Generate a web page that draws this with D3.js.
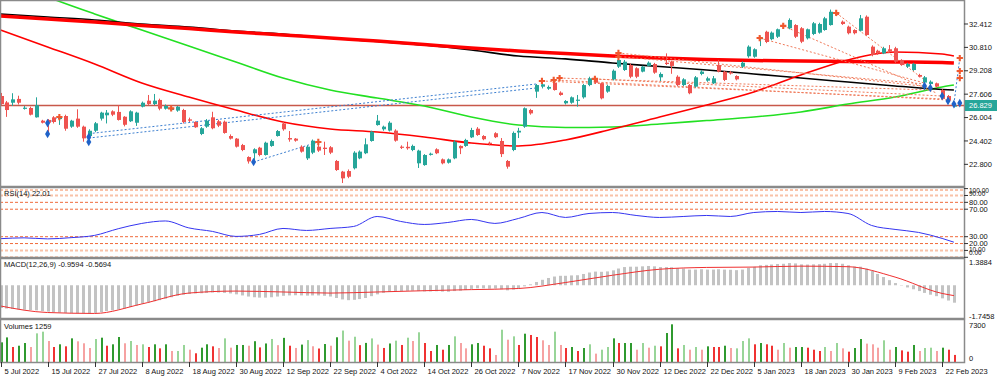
<!DOCTYPE html>
<html>
<head>
<meta charset="utf-8">
<script src="https://cdn.jsdelivr.net/npm/d3@7"></script>
<style>
  body { margin: 0; background: #fff; overflow: hidden; }
  text { font-family: "Liberation Sans", Arial, sans-serif; font-size: 7.5px; fill: #111; }
</style>
</head>
<body>
<div id="chart"></div>
<script>
// ---- price data (one bar per trading day, 5 Jul 2022 .. 24 Feb 2023) ----
const opens = [27.48,27.04,27.02,27.28,26.64,26.66,26.02,25.79,25.84,26.02,25.90,26.11,25.38,25.93,25.38,24.74,25.10,25.93,26.16,26.43,
  26.39,26.06,25.75,25.65,26.75,27.16,26.93,27.21,26.61,26.52,26.48,26.52,25.88,25.70,24.88,25.38,26.02,25.75,25.72,24.74,
  24.56,24.12,23.30,23.56,23.94,23.44,24.06,24.74,25.60,24.60,24.56,24.01,23.21,23.60,24.01,23.94,23.97,23.03,22.30,22.34,
  22.53,23.21,23.56,24.40,25.49,25.20,25.11,25.11,24.01,24.00,23.78,22.87,22.75,23.49,23.83,23.14,22.91,23.21,24.06,24.06,
  24.65,25.24,24.74,24.28,24.93,24.40,23.03,23.78,24.98,25.38,26.52,27.78,28.12,27.98,28.40,27.71,26.98,27.02,27.19,27.39,
  28.23,28.62,28.35,27.78,28.62,29.49,29.26,29.60,29.38,29.15,29.54,29.67,28.76,29.76,29.83,28.80,28.23,28.23,28.12,28.99,
  28.53,28.35,29.60,29.15,29.10,28.85,29.49,30.20,30.17,31.37,31.88,31.37,31.54,32.28,32.12,32.34,32.12,31.43,31.73,31.82,
  32.00,32.34,33.15,32.57,32.23,32.00,31.95,32.91,30.86,30.58,30.40,30.68,30.75,29.95,29.49,29.26,28.92,28.40,28.30,28.35,
  27.89,27.48,26.76];
const highs = [27.69,27.14,27.67,27.50,26.80,26.75,27.39,25.85,25.90,26.10,26.20,26.20,25.85,26.57,25.45,25.20,25.70,26.40,26.52,26.50,
  26.84,26.10,26.50,26.40,27.10,27.55,27.62,27.30,26.90,26.70,26.80,26.60,26.00,25.75,25.35,25.90,26.40,25.85,25.80,24.85,
  24.60,24.20,23.35,23.90,24.00,24.35,24.50,25.15,25.75,25.08,24.60,24.10,24.10,24.50,24.30,24.35,24.05,23.10,22.35,22.45,
  23.70,23.75,24.58,25.10,26.18,25.45,25.75,25.20,24.10,24.35,24.15,23.80,23.50,23.60,23.90,23.20,23.20,24.45,24.10,24.55,
  25.30,25.35,24.80,24.35,25.00,24.60,23.10,25.05,25.30,26.70,26.60,28.30,28.50,28.20,28.50,27.80,27.20,27.45,27.55,28.30,
  28.80,28.75,28.40,28.25,29.30,30.40,29.95,29.70,29.45,29.55,29.85,29.75,29.10,30.40,29.90,28.90,28.70,28.30,28.85,29.25,
  28.80,28.85,29.95,29.20,29.20,28.90,29.85,30.95,30.75,31.55,31.95,31.90,32.10,32.35,32.80,32.40,32.20,32.10,32.55,32.50,
  32.90,33.40,33.20,32.65,32.30,32.05,33.03,33.00,30.95,30.65,30.85,30.97,30.85,30.00,29.75,29.75,29.00,28.85,28.55,28.40,
  27.95,27.55,26.95];
const lows = [26.87,26.05,26.80,26.90,26.55,26.15,26.00,25.60,24.95,25.60,25.50,25.10,25.30,25.30,24.35,24.60,25.00,25.80,25.60,26.10,
  25.80,25.40,25.70,25.43,26.70,26.85,26.85,26.50,26.55,26.45,26.40,25.60,25.70,25.30,24.80,25.30,25.20,25.35,24.90,24.50,
  23.95,23.70,22.85,23.00,23.35,23.40,24.00,24.70,25.10,24.35,24.35,23.60,23.10,23.50,23.65,23.44,23.50,22.35,21.52,21.85,
  22.45,23.15,23.50,24.35,25.45,25.10,25.05,24.35,23.85,23.80,23.70,22.55,22.70,23.40,23.50,22.80,22.85,23.15,23.50,24.00,
  24.60,24.75,24.45,24.10,24.60,23.30,22.50,23.70,24.60,25.30,26.20,27.35,28.00,27.90,27.85,27.50,26.90,26.95,26.75,27.30,
  28.15,28.30,27.25,27.70,28.55,29.40,29.20,28.70,28.70,29.10,29.50,29.00,28.50,29.60,29.00,28.15,28.15,27.60,28.05,28.90,
  28.45,28.30,29.10,28.50,28.95,28.55,29.40,30.10,30.10,30.90,31.10,31.30,31.45,32.10,32.05,31.45,31.10,31.35,31.65,31.75,
  31.95,32.30,32.95,32.35,31.70,31.70,31.90,31.60,30.20,30.30,30.35,30.45,29.75,29.55,29.40,29.20,28.75,28.30,28.20,28.05,
  27.20,27.05,26.70];
const closes = [26.93,26.52,27.25,27.02,26.68,26.20,26.85,25.65,25.65,25.70,26.02,25.24,25.79,25.38,24.58,25.10,25.61,26.34,26.34,26.20,
  25.84,25.51,26.43,26.34,27.02,26.93,27.16,26.61,26.80,26.66,26.75,25.70,25.79,25.34,25.27,25.79,25.27,25.45,24.95,24.56,
  24.01,23.78,23.00,23.83,23.44,24.28,24.40,25.08,25.20,24.50,24.42,23.67,24.01,24.42,23.74,23.85,23.60,22.41,21.84,21.95,
  23.60,23.67,24.17,25.04,25.79,25.38,25.65,24.42,23.94,23.90,24.06,23.74,23.44,23.53,23.56,22.87,23.14,24.35,23.90,24.47,
  25.15,24.81,24.52,24.20,24.66,23.50,22.64,24.95,25.10,26.64,26.29,28.23,28.28,28.10,27.89,27.55,27.14,27.39,27.23,28.23,
  28.69,28.39,27.32,28.17,29.21,29.95,29.83,28.80,28.80,29.49,29.76,29.08,28.99,29.67,29.54,28.23,28.62,27.67,28.76,29.15,
  28.69,28.69,29.15,28.58,29.02,28.62,29.76,30.86,30.68,31.48,31.18,31.82,32.05,32.21,32.69,31.54,31.20,32.05,32.46,32.41,
  32.80,33.25,33.03,32.41,31.78,31.78,32.80,31.66,30.29,30.40,30.75,30.52,29.83,29.60,29.67,29.67,28.80,28.76,28.46,28.12,
  27.28,27.16,26.829];

// volumes and their colour class (G dark green, g light green, R red, r light red)
const volumes = [3500,4380,2670,2900,3380,2670,5100,5400,3740,2670,3150,2790,4210,3680,3330,2490,4090,4330,2900,3150,
  4450,3330,3740,3030,3150,2670,3150,2430,3150,1960,1960,3030,2190,1550,2550,3150,2790,2490,4210,2550,
  3030,3030,2900,3700,2600,3300,4100,3000,4300,2900,2500,3100,3900,2800,2400,3200,2900,4400,5600,3800,
  4500,3000,3400,4200,3100,2500,3300,3800,3030,4330,3740,5290,3380,1960,3030,2190,3030,4570,3380,2430,
  3150,3380,2900,2430,1250,5750,3970,4570,3030,5040,4810,4450,3860,3030,5400,3030,2490,2670,1960,2490,
  3150,1490,2190,2670,4210,3380,3380,3380,2190,3380,2550,2900,2790,5160,6710,2430,3030,2190,2670,2190,
  2790,2670,2670,2900,2490,2430,3740,4210,3150,3380,3150,2900,2190,3380,2550,2670,2670,2550,2190,1960,
  2670,1960,3380,2430,1840,2490,4090,3270,3150,2550,3860,2190,2670,2070,1840,3030,1960,2490,2550,1960,
  2550,2190,1259];
const volColors = ("GGRGGrggrR" + "GRGrrrgGRG" + "GrgrgRGRGr" + "ggrRGGRrgr" + "GGrGRGgrGR" +
  "rGgrRGrGgr" + "gRGgrRGgRg" + "rgRRGRGgrr" + "GGRRrgrgRG" + "RRrrgrRGRG" +
  "grggGRGGrg" + "rgRGGRgrgr" + "GRRGrgggRG" + "RRrgrGGRRR" + "grgrRGGrrr" +
  "grGRRGrggr" + "GRR").split("");

// moving averages, sampled every 8 bars (last point = bar 162)
const maBars = [0,8,16,24,32,40,48,56,64,72,80,88,96,104,112,120,128,136,144,152,160,162];
const maThickRed = [32.96,32.75,32.55,32.31,32.10,31.86,31.66,31.45,31.25,31.01,30.77,30.56,30.39,30.22,30.08,29.98,29.91,29.88,29.84,29.81,29.78,29.74];
const maBlack = [33.10,32.89,32.69,32.41,32.21,31.93,31.73,31.45,31.21,30.97,30.63,30.22,30.02,29.74,29.50,29.26,28.99,28.71,28.44,28.17,27.93,27.89];
const maGreen = [35.56,34.26,33.10,32.00,30.91,29.81,28.71,27.89,27.34,26.80,26.04,25.49,25.32,25.36,25.56,25.80,26.04,26.39,26.93,27.41,28.10,28.23];
const maRed = [32.00,30.84,29.67,28.37,27.41,26.52,25.70,25.22,25.01,24.67,24.26,24.06,24.47,25.22,26.04,26.87,27.76,28.92,29.95,30.49,30.36,30.22];

// RSI(14), sampled every 4 bars
const rsiBars = [0,4,8,12,16,20,24,28,32,36,40,44,48,52,56,60,64,68,72,76,80,84,88,92,96,100,104,108,112,116,120,124,128,132,136,140,144,148,152,156,160,162];
const rsiVals = [27.1,28.3,26.8,28.6,31.9,41.6,49.3,52.9,42.8,37.7,30.4,33.3,42.0,39.1,42.0,44.9,59.4,52.2,47.8,50.7,55.1,49.3,56.5,65.2,58.0,63.8,65.2,60.9,58.0,59.4,60.9,59.4,65.2,66.7,65.2,66.7,63.8,46.4,40.6,36.2,27.5,22.01];
const rsiLevels = [100, 90, 80, 70, 30, 20, 10, 0];

// MACD(12,26,9): main per bar, signal sampled every 8 bars
const macdMain = [-1.25,-1.28,-1.30,-1.32,-1.34,-1.36,-1.38,-1.42,-1.45,-1.48,-1.50,-1.52,-1.53,-1.54,-1.54,-1.55,
  -1.52,-1.48,-1.42,-1.38,-1.33,-1.28,-1.20,-1.12,-1.02,-0.95,-0.88,-0.82,-0.74,-0.66,-0.58,-0.52,
  -0.48,-0.45,-0.44,-0.42,-0.40,-0.40,-0.42,-0.45,-0.50,-0.56,-0.62,-0.66,-0.68,-0.68,-0.66,-0.62,
  -0.58,-0.56,-0.55,-0.56,-0.57,-0.56,-0.56,-0.58,-0.62,-0.70,-0.78,-0.82,-0.80,-0.76,-0.70,-0.60,
  -0.50,-0.42,-0.36,-0.33,-0.32,-0.31,-0.30,-0.32,-0.34,-0.34,-0.33,-0.35,-0.36,-0.32,-0.30,-0.26,
  -0.20,-0.17,-0.17,-0.19,-0.18,-0.22,-0.28,-0.24,-0.18,-0.06,0.05,0.18,0.30,0.40,0.48,0.52,
  0.52,0.54,0.55,0.62,0.70,0.75,0.74,0.76,0.82,0.92,1.00,1.02,1.02,1.04,1.06,1.04,
  1.00,1.00,0.99,0.94,0.92,0.86,0.86,0.88,0.86,0.86,0.88,0.86,0.85,0.83,0.86,0.95,
  1.02,1.10,1.12,1.14,1.17,1.18,1.22,1.20,1.15,1.14,1.15,1.16,1.18,1.22,1.22,1.18,
  1.10,1.03,1.02,0.92,0.80,0.62,0.45,0.28,0.12,-0.02,-0.12,-0.22,-0.32,-0.42,-0.52,-0.60,
  -0.72,-0.84,-0.9594];
const macdSignal = [-1.14,-1.50,-1.55,-1.03,-0.43,-0.32,-0.37,-0.43,-0.37,-0.30,-0.24,-0.18,0.15,0.55,0.88,0.98,1.00,1.05,1.02,0.45,-0.45,-0.5694];

// trade history: [openBar, openPrice, closeBar, closePrice]
const sellLines = [[92,28.51,160,27.28],[94,28.58,161,27.21],[95,28.71,158,27.89],[101,28.65,160,27.48],[105,30.43,158,28.10],
  [106,30.15,157,28.30],[129,31.45,157,28.37],[133,32.28,159,27.69],[142,33.17,157,28.58]];
const buyLines = [[8,25.63,10,26.04],[15,24.90,91,28.30],[15,24.60,91,28.03],[43,22.96,54,24.33],[162,26.93,163,30.08]];
const sellMarks = [[10,26.04],[29,26.63],[54,24.33],[92,28.51],[94,28.58],[95,28.71],[101,28.65],[105,30.43],[105,30.15],
  [129,31.45],[133,32.28],[142,33.17],[163,30.08],[163,29.19],[163,28.71]];
const buyMarks = [[8,25.63],[8,24.88],[15,24.67],[15,24.33],[43,22.96],[157,28.17],[158,28.03],[160,27.48],[161,27.14],[162,26.93],[163,27.00]];

const lastPrice = 26.829;
const priceTicks = [22.800, 24.402, 26.004, 27.606, 29.208, 30.810, 32.412];
const tickBars = [0,8,16,24,32,40,48,56,64,72,80,88,96,104,112,120,128,136,144,152,160];
const tickLabels = ["5 Jul 2022","15 Jul 2022","27 Jul 2022","8 Aug 2022","18 Aug 2022","30 Aug 2022","12 Sep 2022",
  "22 Sep 2022","4 Oct 2022","14 Oct 2022","26 Oct 2022","7 Nov 2022","17 Nov 2022","30 Nov 2022","12 Dec 2022",
  "22 Dec 2022","5 Jan 2023","18 Jan 2023","30 Jan 2023","9 Feb 2023","22 Feb 2023"];

// ---- layout ----
const width = 1000, height = 378, right = 964;
const panels = { main: [1, 186], rsi: [188, 257], macd: [259, 318], vol: [320, 362] };

const svg = d3.select("#chart").append("svg")
  .attr("width", width).attr("height", height);

const x = d3.scaleLinear().domain([0, 162]).range([0.5, 953.9]);
const yMain = d3.scaleLinear().domain([21.316, 33.987]).range([186, 1]);
const yRsi = d3.scaleLinear().domain([0, 100]).range([257.3, 188.6]);
const yMacd = d3.scaleLinear().domain([-1.7458, 1.3884]).range([317, 260]);
const yVol = d3.scaleLinear().domain([0, 7300]).range([362, 321]);

const defs = svg.append("defs");
Object.entries(panels).forEach(([k, [t, b]]) => {
  defs.append("clipPath").attr("id", "clip-" + k)
    .append("rect").attr("x", 0).attr("y", t).attr("width", right).attr("height", b - t);
});

const main = svg.append("g").attr("clip-path", "url(#clip-main)");

// last price line
main.append("line")
  .attr("x1", 0).attr("x2", right)
  .attr("y1", yMain(lastPrice)).attr("y2", yMain(lastPrice))
  .attr("stroke", "#c8584a").attr("stroke-width", 1.3);

// moving averages
const maLine = d3.line().x(d => x(d[0])).y(d => yMain(d[1])).curve(d3.curveMonotoneX);
const zipMa = vals => maBars.map((b, i) => [b, vals[i]]);
main.append("path").attr("d", maLine(zipMa(maGreen))).attr("fill", "none").attr("stroke", "#22e022").attr("stroke-width", 1.6);
main.append("path").attr("d", maLine(zipMa(maBlack))).attr("fill", "none").attr("stroke", "#000").attr("stroke-width", 1.6);
main.append("path").attr("d", maLine(zipMa(maThickRed))).attr("fill", "none").attr("stroke", "#ff0000").attr("stroke-width", 3.5);
main.append("path").attr("d", maLine(zipMa(maRed))).attr("fill", "none").attr("stroke", "#ff0000").attr("stroke-width", 1.6);

// trade lines
main.selectAll(".sell").data(sellLines).join("line")
  .attr("x1", d => x(d[0])).attr("y1", d => yMain(d[1]))
  .attr("x2", d => x(d[2])).attr("y2", d => yMain(d[3]))
  .attr("stroke", "#f07a5a").attr("stroke-width", 1).attr("stroke-dasharray", "2,2");
main.selectAll(".buy").data(buyLines).join("line")
  .attr("x1", d => x(d[0])).attr("y1", d => yMain(d[1]))
  .attr("x2", d => x(d[2])).attr("y2", d => yMain(d[3]))
  .attr("stroke", "#3d7fd0").attr("stroke-width", 1).attr("stroke-dasharray", "2,2");

// candles
const bars = d3.range(opens.length);
const up = i => closes[i] >= opens[i];
const col = i => up(i) ? "#26a69a" : "#ef5350";
main.selectAll(".wick").data(bars).join("line")
  .attr("x1", i => Math.round(x(i)) + 0.5).attr("x2", i => Math.round(x(i)) + 0.5)
  .attr("y1", i => yMain(highs[i])).attr("y2", i => yMain(lows[i]))
  .attr("stroke", col).attr("stroke-width", 1);
main.selectAll(".body").data(bars).join("rect")
  .attr("x", i => Math.round(x(i)) - 1)
  .attr("width", 4)
  .attr("y", i => yMain(Math.max(opens[i], closes[i])))
  .attr("height", i => Math.max(1.2, Math.abs(yMain(opens[i]) - yMain(closes[i]))))
  .attr("fill", col);

// trade markers
main.selectAll(".bm").data(buyMarks).join("path")
  .attr("d", d3.symbol(d3.symbolDiamond, 22))
  .attr("transform", d => `translate(${x(d[0])},${yMain(d[1])})`)
  .attr("fill", "#1f62c8");
main.selectAll(".sm").data(sellMarks).join("path")
  .attr("d", d3.symbol(d3.symbolCross, 22))
  .attr("transform", d => `translate(${x(d[0])},${yMain(d[1])})`)
  .attr("fill", "#f0582e");

// ---- RSI ----
const outer = d => d === 100 || d === 90 || d === 10 || d === 0;
const rsiG = svg.append("g").attr("clip-path", "url(#clip-rsi)");
rsiG.selectAll("line").data(rsiLevels).join("line")
  .attr("x1", 0).attr("x2", right)
  .attr("y1", d => yRsi(d) + (d === 100 ? 1.5 : 0)).attr("y2", d => yRsi(d) + (d === 100 ? 1.5 : 0))
  .attr("stroke", d => outer(d) ? "#f9c2a8" : "#f06a3a")
  .attr("stroke-width", d => outer(d) ? 2 : 1)
  .attr("stroke-dasharray", "3,2");
rsiG.append("path")
  .attr("d", d3.line().x((d, i) => x(rsiBars[i])).y(d => yRsi(d)).curve(d3.curveMonotoneX)(rsiVals))
  .attr("fill", "none").attr("stroke", "#3535f0").attr("stroke-width", 1);

// ---- MACD ----
const macdG = svg.append("g").attr("clip-path", "url(#clip-macd)");
macdG.selectAll("rect").data(bars).join("rect")
  .attr("x", i => Math.round(x(i)) - 1).attr("width", 3)
  .attr("y", i => Math.min(yMacd(0), yMacd(macdMain[i])))
  .attr("height", i => Math.abs(yMacd(0) - yMacd(macdMain[i])))
  .attr("fill", "#c3c3c3");
macdG.append("path")
  .attr("d", d3.line().x((d, i) => x(maBars[i])).y(d => yMacd(d)).curve(d3.curveMonotoneX)(macdSignal))
  .attr("fill", "none").attr("stroke", "#f03030").attr("stroke-width", 1);

// ---- Volumes ----
const volFill = { G: "#2f9a2f", g: "#98d598", R: "#f03232", r: "#f6a2a2" };
const volG = svg.append("g").attr("clip-path", "url(#clip-vol)");
volG.selectAll("rect").data(bars).join("rect")
  .attr("x", i => Math.round(x(i))).attr("width", 2)
  .attr("y", i => yVol(volumes[i]))
  .attr("height", i => yVol(0) - yVol(volumes[i]))
  .attr("fill", i => volFill[volColors[i]]);

// ---- frames ----
Object.values(panels).forEach(([t, b]) => {
  svg.append("rect").attr("x", 0.5).attr("y", t - 0.5).attr("width", right).attr("height", b - t + 1)
    .attr("fill", "none").attr("stroke", "#8a8a8a").attr("stroke-width", 1.5);
});

// ---- right axes ----
const axisG = svg.append("g").attr("transform", `translate(${right},0)`);
function rightLabel(yy, label, tick) {
  if (tick) axisG.append("line").attr("x1", 0).attr("x2", 4).attr("y1", yy).attr("y2", yy).attr("stroke", "#333");
  axisG.append("text").attr("x", 5).attr("y", yy).attr("dy", "0.35em").text(label);
}
priceTicks.forEach(v => rightLabel(yMain(v), v.toFixed(3), true));

// RSI level labels: the outer pairs sit squeezed against the panel edges
const rsiLabelPos = { 100: 190.5, 90: 193.5, 10: 249.5, 0: 253 };
rsiLevels.forEach(v => {
  const yy = outer(v) ? rsiLabelPos[v] : yRsi(v);
  axisG.append("text").attr("x", 5).attr("y", yy).attr("dy", "0.35em")
    .style("font-size", outer(v) ? "6.5px" : null).text(v.toFixed(2));
  axisG.append("line").attr("x1", 0).attr("x2", 4).attr("y1", yRsi(v)).attr("y2", yRsi(v)).attr("stroke", "#333");
});

axisG.append("rect").attr("x", 1).attr("y", yMain(lastPrice) - 5.5).attr("width", 32).attr("height", 11).attr("fill", "#26a69a");
axisG.append("text").attr("x", 5).attr("y", yMain(lastPrice)).attr("dy", "0.35em").style("fill", "#fff").text(lastPrice.toFixed(3));

rightLabel(262, "1.3884", false);
rightLabel(316, "-1.7458", false);
rightLabel(325, "7300", false);
rightLabel(358, "0", false);

// ---- titles ----
svg.append("text").attr("x", 4).attr("y", 196).text("RSI(14) 22.01");
svg.append("text").attr("x", 4).attr("y", 267).text("MACD(12,26,9) -0.9594 -0.5694");
svg.append("text").attr("x", 4).attr("y", 329).text("Volumes 1259");

// ---- time axis ----
const xAxis = svg.append("g");
tickBars.forEach((b, i) => {
  const xx = Math.round(x(b)) + 0.5;
  xAxis.append("line").attr("x1", xx).attr("x2", xx).attr("y1", 362).attr("y2", 367).attr("stroke", "#333");
  xAxis.append("text").attr("x", xx + 3).attr("y", 374).text(tickLabels[i]);
});
</script>
</body>
</html>
